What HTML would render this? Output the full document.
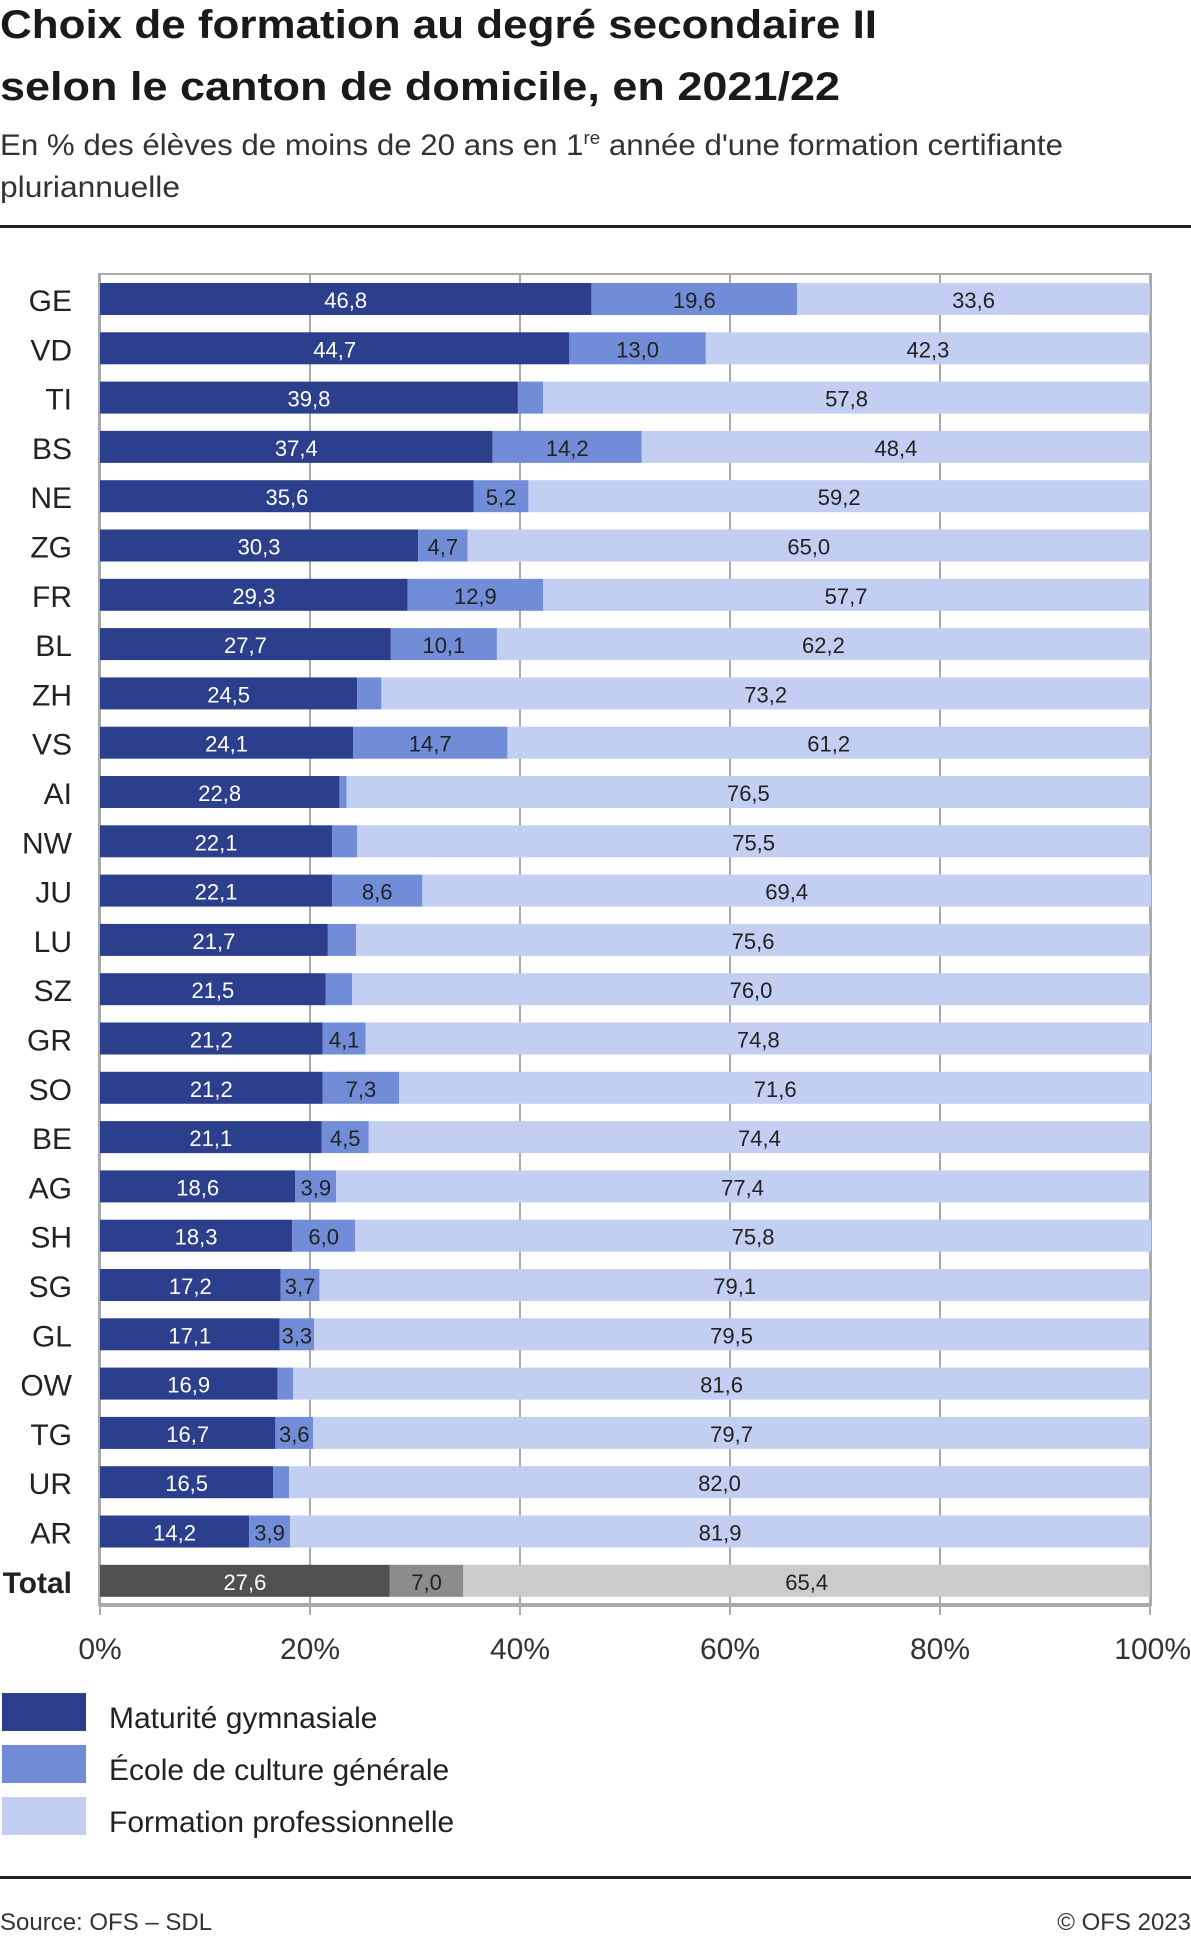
<!DOCTYPE html>
<html><head><meta charset="utf-8"><style>
body{margin:0;background:#fff;font-family:"Liberation Sans",sans-serif;color:#222}
svg text{font-family:"Liberation Sans",sans-serif}
</style></head><body>
<svg width="1191" height="1933" viewBox="0 0 1191 1933" xmlns="http://www.w3.org/2000/svg">
<g font-weight="bold" font-size="40" fill="#1a1a1a">
<text x="0" y="38" textLength="877" lengthAdjust="spacingAndGlyphs">Choix de formation au degré secondaire II</text>
<text x="0" y="100" textLength="840" lengthAdjust="spacingAndGlyphs">selon le canton de domicile, en 2021/22</text>
</g>
<g font-size="30" fill="#333">
<text x="0" y="155" textLength="1063" lengthAdjust="spacingAndGlyphs">En % des élèves de moins de 20 ans en 1<tspan font-size="18" dy="-11">re</tspan><tspan dy="11"> année d'une formation certifiante</tspan></text>
<text x="0" y="197" textLength="180" lengthAdjust="spacingAndGlyphs">pluriannuelle</text>
</g>
<rect x="0" y="225" width="1191" height="3" fill="#222"/>
<g id="plot"></g>
<g font-size="30" fill="#222">
<rect x="2" y="1693" width="84" height="38" fill="#2b3f8c"/>
<text x="109" y="1728">Maturité gymnasiale</text>
<rect x="2" y="1745" width="84" height="38" fill="#728dd8"/>
<text x="109" y="1780">École de culture générale</text>
<rect x="2" y="1797" width="84" height="38" fill="#c2cef2"/>
<text x="109" y="1832">Formation professionnelle</text>
</g>
<rect x="0" y="1876" width="1191" height="3" fill="#222"/>
<text x="0" y="1930" font-size="24" fill="#333">Source: OFS – SDL</text>
<text x="1191" y="1930" font-size="24" fill="#333" text-anchor="end">© OFS 2023</text>
</svg>
<script>
const categories=["GE","VD","TI","BS","NE","ZG","FR","BL","ZH","VS","AI","NW","JU","LU","SZ","GR","SO","BE","AG","SH","SG","GL","OW","TG","UR","AR","Total"];
const maturite=[46.8,44.7,39.8,37.4,35.6,30.3,29.3,27.7,24.5,24.1,22.8,22.1,22.1,21.7,21.5,21.2,21.2,21.1,18.6,18.3,17.2,17.1,16.9,16.7,16.5,14.2,27.6];
const ecg=[19.6,13.0,2.4,14.2,5.2,4.7,12.9,10.1,2.3,14.7,0.7,2.4,8.6,2.7,2.5,4.1,7.3,4.5,3.9,6.0,3.7,3.3,1.5,3.6,1.5,3.9,7.0];
const pro=[33.6,42.3,57.8,48.4,59.2,65.0,57.7,62.2,73.2,61.2,76.5,75.5,69.4,75.6,76.0,74.8,71.6,74.4,77.4,75.8,79.1,79.5,81.6,79.7,82.0,81.9,65.4];
const ticks=[0,20,40,60,80,100];
const NS="http://www.w3.org/2000/svg";
const X0=100,X1=1150,Y0=283,PITCH=49.3,BH=32;
const xs=v=>X0+(X1-X0)*v/100;
const ys=i=>Y0+i*PITCH;
const g=document.getElementById('plot');
function mk(t,a){const e=document.createElementNS(NS,t);for(const k in a)e.setAttribute(k,a[k]);g.appendChild(e);return e;}
let e=mk('rect',{x:X0-1,y:274,width:X1-X0+2,height:1605-274,fill:'none',stroke:'#aaa','stroke-width':2});


ticks.forEach(t=>{
 let l=mk('line',{x1:xs(t),x2:xs(t),y1:274,y2:1615,stroke:'#aaa','stroke-width':2});
 
 
 let tx=mk('text',{x:xs(t),y:1659,'font-size':30,'text-anchor':t===100?'end':'middle',fill:'#333'});
 if(t===100)tx.setAttribute('x',1191);
 tx.textContent=t+'%';
 
 
});
e=mk('rect',{x:X0-1,y:1603,width:X1-X0+2,height:4,fill:'#aaa'});


const fmt=v=>v.toFixed(1).replace('.',',');
categories.forEach((c,i)=>{
 const tot=c==='Total';
 const cols=tot?['#505050','#8c8c8c','#cbcbcb']:['#2b3f8c','#728dd8','#c2cef2'];
 const tcols=['#fff','#222','#222'];
 const vals=[maturite[i],ecg[i],pro[i]];
 const names=['maturite','ecg','pro'];
 let acc=0;const y=ys(i);
 let lb=mk('text',{x:72,y:y+BH/2+12,'font-size':30,'text-anchor':'end',fill:'#222','font-weight':tot?'bold':'normal'});
 lb.textContent=c;
 
 
 vals.forEach((v,k)=>{
  const xa=xs(acc),xb=xs(acc+v);
  let r=mk('rect',{x:xa,y:y,width:xb-xa,height:BH,fill:cols[k]});
  
  
  if(v>=3){
   let t=mk('text',{x:(xa+xb)/2,y:y+BH/2+9,'font-size':22,'text-anchor':'middle',fill:tcols[k]});
   t.textContent=fmt(v);
   
   
  }
  acc+=v;
 });
});
</script>
</body></html>
